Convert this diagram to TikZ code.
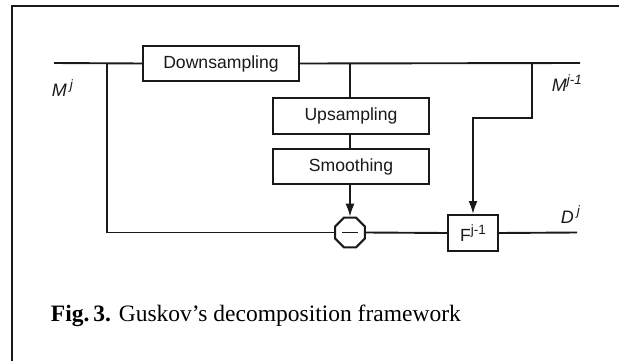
\documentclass[tikz,border=0pt]{standalone}
\usepackage{fontspec}
\setmainfont{Liberation Serif}
\newfontfamily\diagfont{Liberation Sans}
\usetikzlibrary{arrows.meta,shapes.geometric}
\colorlet{ink}{black!90}
\newcommand\upidx[1]{\raisebox{0.42em}{\fontsize{13.5}{14}\selectfont #1}}

\begin{document}
\begin{tikzpicture}[x=1pt, y=-1pt,
          line width=1.9pt, draw=ink,
          blk/.style={draw=ink, line width=2pt, minimum width=156pt, minimum height=35pt,
                      inner sep=0, font=\diagfont\fontsize{17.6}{20}\selectfont, text=ink},
          subnode/.style={draw=ink, line width=2pt, regular polygon, regular polygon sides=8,
                      minimum size=32pt, inner sep=0},
          lbl/.style={anchor=base west, inner sep=0, text=ink,
                      font=\diagfont\itshape\fontsize{18}{20}\selectfont},
          tip/.style={-{Latex[length=13pt, width=9pt]}}
        ]
        \useasboundingbox (0,0) rectangle (619,361);

        % ---- outer frame ----
        \draw[line width=2.6pt] (12,361) -- (12,6) -- (619,6);

        % ---- blocks ----
        \node[blk] (down)   at (221,63.5) {Downsampling};
        \node[blk] (up)     at (351,116)  {Upsampling};
        \node[blk] (smooth) at (351,166.5) {Smoothing};
        \node[subnode] (minus) at (350,232.5) {};
        \node[blk, minimum width=50pt, minimum height=36pt] (inv) at (473,233) {F\upidx{j-1}};

        % ---- wire ends and branch points ----
        \coordinate (in)     at (54,63);
        \coordinate (out)    at (580,63);
        \coordinate (lsplit) at (107,63);
        \coordinate (lbot)   at (107,232.5);
        \coordinate (msplit) at (350,63);
        \coordinate (rsplit) at (532,63);
        \coordinate (rbend)  at (532,118);
        \coordinate (dout)   at (577,232.5);

        % ---- labels ----
        \node[lbl] (mj)  at (51,97)  {M\,\upidx{j}};
        \node[lbl] (mj1) at (551,92) {M\upidx{j-1}};
        \node[lbl] (dj)  at (560,223) {D\,\upidx{j}};

        % ---- connectors ----
        \draw (in) -- (down.west);
        \draw (down.east) -- (out);
        \draw (lsplit) -- (lbot) -- (minus.west);
        \draw (minus.east) -- (inv.west);
        \draw (inv.east) -- (dout);
        \draw (msplit) -- (msplit |- up.north);
        \draw (up.south -| msplit) -- (smooth.north -| msplit);
        \draw[tip] (smooth.south -| msplit) -- (minus.north);
        \draw[tip] (rsplit) -- (rbend) -| (inv.north);

        % minus sign
        \draw ([xshift=-8pt]minus.center) -- ([xshift=8pt]minus.center);

        % ---- caption ----
        \node[anchor=base west, inner sep=0, font=\fontsize{23.5}{26}\selectfont] (cap) at (50,321)
          {\textbf{Fig.\,3.} Guskov’s decomposition framework};

      \end{tikzpicture}
\end{document}
